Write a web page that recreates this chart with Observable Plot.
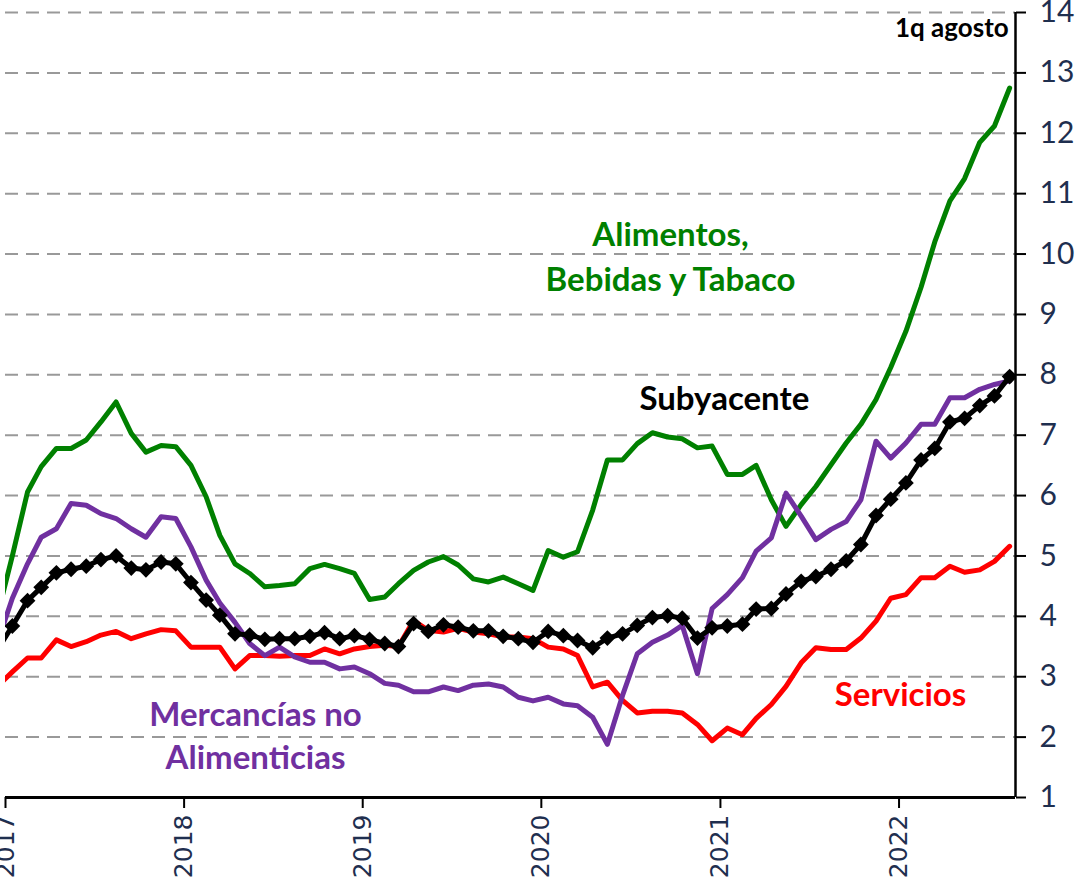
<!DOCTYPE html>
<html>
<head>
<meta charset="utf-8">
<script src="https://cdn.jsdelivr.net/npm/d3@7"></script>
<script src="https://cdn.jsdelivr.net/npm/@observablehq/plot@0.6"></script>
<style>
  html, body { margin: 0; padding: 0; background: #fff; }
  #chart { width: 1084px; height: 882px; }
</style>
</head>
<body>
<div id="chart"></div>
<script>
// Monthly series, Dec 2016 .. Aug 2022 (1q agosto)
const subyacente = [3.44,
  3.84, 4.26, 4.48, 4.72, 4.78, 4.83, 4.94, 5.00, 4.80, 4.77, 4.90, 4.87,
  4.56, 4.27, 4.02, 3.71, 3.69, 3.62, 3.63, 3.63, 3.67, 3.73, 3.63, 3.68,
  3.62, 3.55, 3.50, 3.88, 3.75, 3.86, 3.82, 3.76, 3.76, 3.67, 3.63, 3.57,
  3.75, 3.68, 3.60, 3.48, 3.64, 3.71, 3.85, 3.98, 4.01, 3.97, 3.64, 3.81,
  3.84, 3.87, 4.12, 4.13, 4.37, 4.58, 4.66, 4.78, 4.92, 5.19, 5.67, 5.94,
  6.21, 6.59, 6.78, 7.22, 7.28, 7.49, 7.65, 7.97];
const alimentos = [4.00,
  5.00, 6.06, 6.48, 6.78, 6.78, 6.92, 7.22, 7.55, 7.03, 6.72, 6.83, 6.81,
  6.50, 5.98, 5.34, 4.87, 4.71, 4.49, 4.51, 4.54, 4.79, 4.86, 4.79, 4.71,
  4.28, 4.32, 4.54, 4.76, 4.90, 4.99, 4.85, 4.62, 4.57, 4.65, 4.54, 4.43,
  5.09, 4.98, 5.07, 5.76, 6.59, 6.59, 6.86, 7.04, 6.97, 6.94, 6.79, 6.82,
  6.35, 6.35, 6.50, 5.93, 5.49, 5.85, 6.15, 6.51, 6.87, 7.18, 7.59, 8.12,
  8.72, 9.45, 10.20, 10.88, 11.25, 11.85, 12.12, 12.75];
const mercancias = [3.55,
  4.30, 4.87, 5.31, 5.45, 5.87, 5.84, 5.70, 5.62, 5.45, 5.31, 5.65, 5.62,
  5.15, 4.60, 4.22, 3.90, 3.55, 3.35, 3.49, 3.33, 3.24, 3.24, 3.13, 3.16,
  3.05, 2.89, 2.86, 2.75, 2.75, 2.83, 2.77, 2.86, 2.88, 2.83, 2.66, 2.60,
  2.66, 2.55, 2.52, 2.33, 1.88, 2.69, 3.38, 3.57, 3.69, 3.85, 3.05, 4.13,
  4.36, 4.64, 5.08, 5.30, 6.04, 5.66, 5.27, 5.44, 5.57, 5.93, 6.90, 6.62,
  6.87, 7.18, 7.18, 7.62, 7.62, 7.76, 7.84, 7.90];
const servicios = [2.84,
  3.08, 3.31, 3.31, 3.61, 3.50, 3.58, 3.69, 3.75, 3.63, 3.71, 3.78, 3.76,
  3.49, 3.49, 3.49, 3.13, 3.35, 3.35, 3.34, 3.35, 3.35, 3.46, 3.38, 3.46,
  3.50, 3.52, 3.50, 3.93, 3.77, 3.74, 3.80, 3.74, 3.71, 3.66, 3.66, 3.63,
  3.49, 3.46, 3.35, 2.83, 2.91, 2.61, 2.40, 2.43, 2.43, 2.40, 2.21, 1.94,
  2.15, 2.04, 2.31, 2.54, 2.84, 3.23, 3.48, 3.45, 3.45, 3.64, 3.92, 4.30,
  4.36, 4.64, 4.64, 4.83, 4.73, 4.77, 4.91, 5.16];

const yTicks = [1,2,3,4,5,6,7,8,9,10,11,12,13,14];
const yearTicks = ["2017","2018","2019","2020","2021","2022"];

// months (mid-month positions)
const months = d3.utcMonths(new Date(Date.UTC(2016, 11, 1)), new Date(Date.UTC(2022, 8, 1)))
  .map(m => d3.utcDay.offset(m, 14));

const toRows = (vals) => vals.map((v, i) => ({date: months[i], value: v}));
const rowsSub = toRows(subyacente);
const rowsAli = toRows(alimentos);
const rowsMer = toRows(mercancias);
const rowsSer = toRows(servicios);

const xStart = new Date(Date.UTC(2017, 0, 1));
const xEnd = new Date(Date.UTC(2022, 7, 27));
const navy = "#1f2f4f";
const labelFont = "Lato, 'Open Sans', sans-serif";

const diamond = {
  draw(context, size) {
    const r = Math.sqrt(size / 2);
    context.moveTo(0, -r);
    context.lineTo(r, 0);
    context.lineTo(0, r);
    context.lineTo(-r, 0);
    context.closePath();
  }
};

const chart = Plot.plot({
  width: 1084,
  height: 882,
  marginLeft: 5,
  marginRight: 69,
  marginTop: 12,
  marginBottom: 85,
  style: {fontFamily: labelFont, background: "#fff", overflow: "visible"},
  x: {type: "utc", domain: [xStart, xEnd]},
  y: {domain: [1, 14]},
  marks: [
    Plot.ruleY(yTicks.slice(1), {stroke: "#999", strokeWidth: 2, strokeDasharray: "13,8"}),
    Plot.axisX({
      ticks: yearTicks.map(y => new Date(Date.UTC(+y, 0, 1))),
      tickFormat: d3.utcFormat("%Y"),
      tickRotate: -90, tickSize: 11, tickPadding: 6,
      fontSize: 25, fontFamily: "'DejaVu Sans', sans-serif",
      fill: navy, stroke: "black", strokeWidth: 2, label: null
    }),
    Plot.axisY({
      anchor: "right", ticks: yTicks, tickSize: 10, tickPadding: 14,
      fontSize: 30, fontFamily: labelFont, fill: navy, stroke: "black", strokeWidth: 2, label: null
    }),
    Plot.line(rowsAli, {x: "date", y: "value", stroke: "#008000", strokeWidth: 5, clip: true}),
    Plot.line(rowsSer, {x: "date", y: "value", stroke: "#ff0000", strokeWidth: 5, clip: true}),
    Plot.line(rowsMer, {x: "date", y: "value", stroke: "#7030a0", strokeWidth: 5, clip: true}),
    Plot.line(rowsSub, {x: "date", y: "value", stroke: "#000", strokeWidth: 5, clip: true}),
    Plot.dot(rowsSub, {x: "date", y: "value", symbol: diamond, r: 6.3, fill: "#000", stroke: "none", clip: true}),
    Plot.ruleY([1], {stroke: "#000", strokeWidth: 3}),
    Plot.ruleX([xEnd], {stroke: "#000", strokeWidth: 2.5}),
    Plot.text(["Alimentos,\nBebidas y Tabaco"], {
      x: new Date(Date.UTC(2020, 8, 21)), y: 10.0, fill: "#008000",
      fontSize: 33, fontWeight: "bold", fontFamily: labelFont, lineHeight: 1.35
    }),
    Plot.text(["Subyacente"], {
      x: new Date(Date.UTC(2021, 0, 9)), y: 7.6, fill: "#000",
      fontSize: 33, fontWeight: "bold", fontFamily: labelFont
    }),
    Plot.text(["Mercancías no\nAlimenticias"], {
      x: new Date(Date.UTC(2018, 4, 27)), y: 2.05, fill: "#7030a0",
      fontSize: 33, fontWeight: "bold", fontFamily: labelFont, lineHeight: 1.3
    }),
    Plot.text(["Servicios"], {
      x: new Date(Date.UTC(2022, 0, 4)), y: 2.69, fill: "#ff0000",
      fontSize: 33, fontWeight: "bold", fontFamily: labelFont
    }),
    Plot.text(["1q agosto"], {
      x: new Date(Date.UTC(2022, 7, 13)), y: 13.73, fill: "#000", textAnchor: "end",
      fontSize: 26, fontWeight: "bold", fontFamily: labelFont
    })
  ]
});
document.getElementById("chart").appendChild(chart);
</script>
</body>
</html>
